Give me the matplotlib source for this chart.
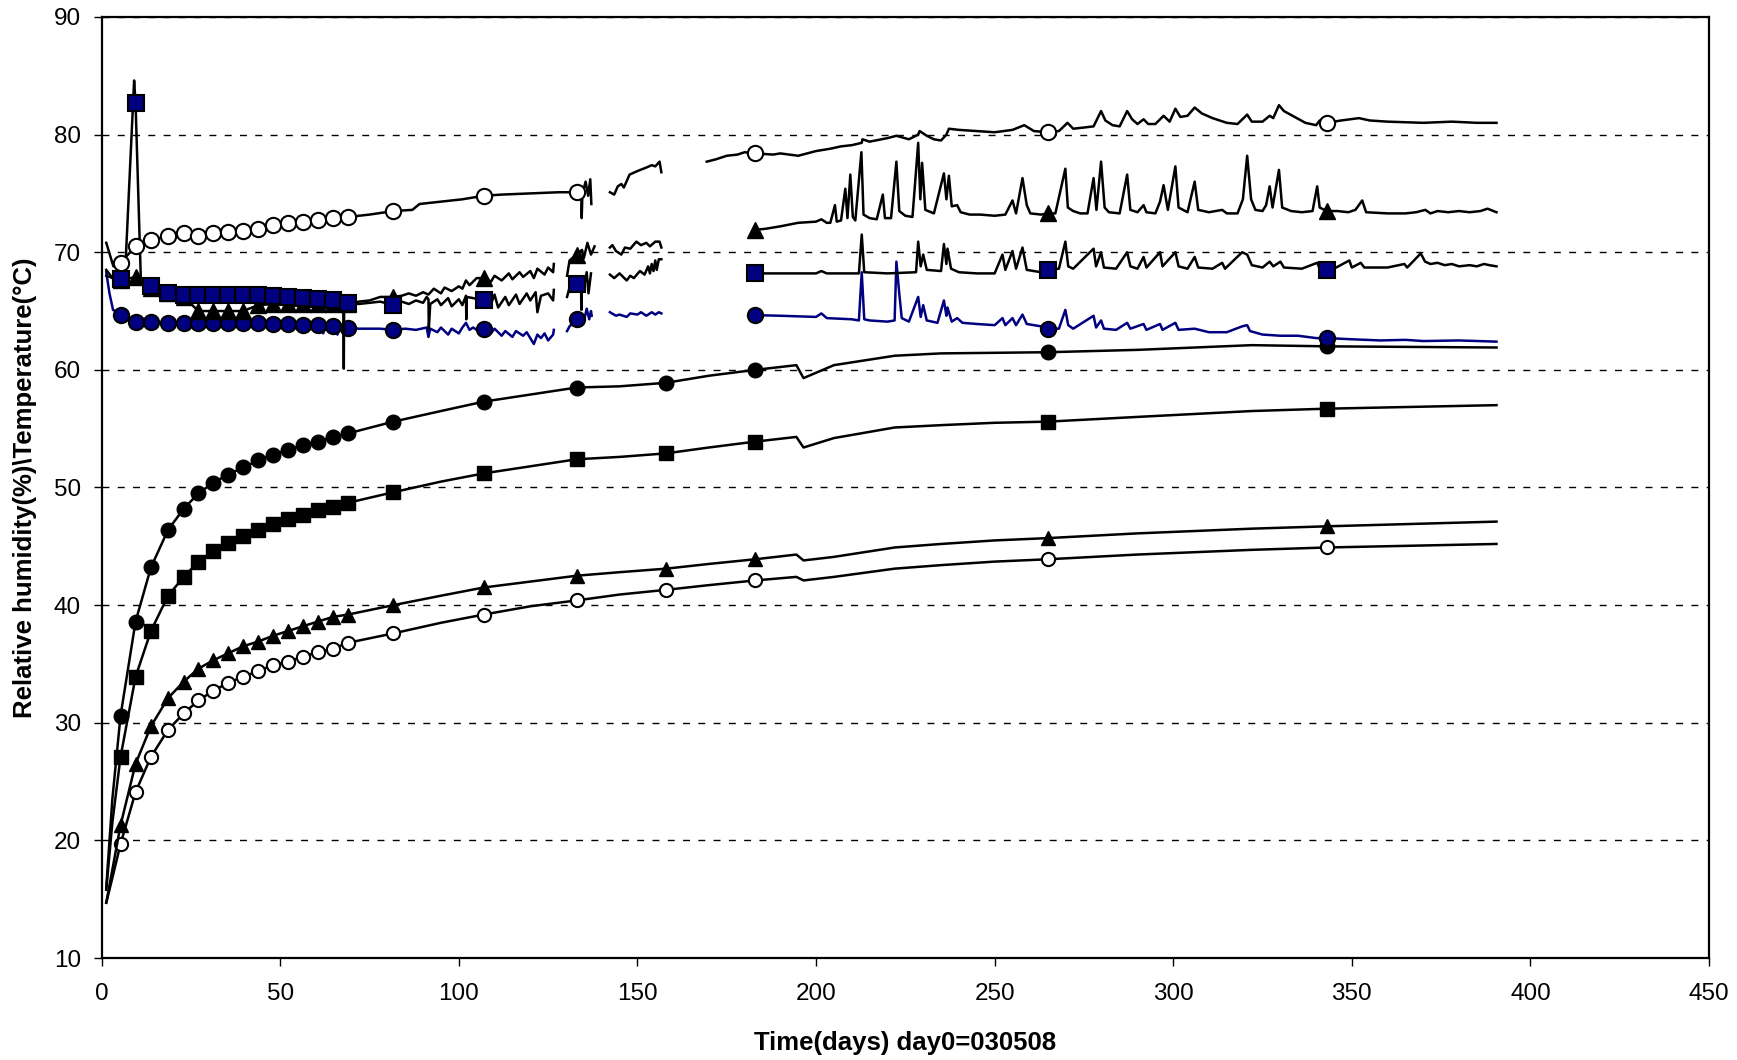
import numpy as np
import matplotlib.pyplot as plt

plt.rcParams['font.family'] = ['Liberation Sans', 'DejaVu Sans']

# days on which the marker symbols sit
MARK_DAYS = [5.3, 9.5, 13.8, 18.6, 23.0, 27.1, 31.2, 35.4, 39.6, 43.8, 48.0, 52.2,
             56.3, 60.5, 64.8, 69.0, 81.7, 107.0, 133.0, 158.0, 183.0, 265.0, 343.0]

# ---- smooth (lower) curves ----
low_t = [1.3, 3.0, 5.3, 9.5, 13.8, 18.6, 23.0, 27.1, 31.2, 35.4, 39.6, 43.8, 48.0,
         52.2, 56.3, 60.5, 64.8, 69.0, 81.7, 95, 107.0, 120, 133.0, 145, 158.0, 170,
         183.0, 194.5, 196.5, 205, 222, 235, 250, 265.0, 290, 322, 343.0, 390.5]
rh_circle = [16.0, 23.5, 30.6, 38.6, 43.2, 46.4, 48.2, 49.5, 50.4, 51.1, 51.7, 52.3, 52.8,
             53.2, 53.6, 53.9, 54.3, 54.6, 55.6, 56.5, 57.3, 57.9, 58.5, 58.6, 58.9, 59.5,
             60.0, 60.4, 59.3, 60.4, 61.2, 61.4, 61.45, 61.5, 61.7, 62.1, 62.0, 61.9]
rh_square = [15.8, 21.5, 27.1, 33.9, 37.8, 40.8, 42.4, 43.7, 44.6, 45.3, 45.9, 46.4, 46.9,
             47.3, 47.7, 48.1, 48.3, 48.7, 49.6, 50.5, 51.2, 51.8, 52.4, 52.6, 52.9, 53.4,
             53.9, 54.3, 53.4, 54.2, 55.1, 55.3, 55.5, 55.6, 56.0, 56.5, 56.7, 57.0]
rh_triangle = [14.7, 17.5, 21.3, 26.5, 29.7, 32.1, 33.5, 34.6, 35.3, 35.9, 36.5, 36.9, 37.4,
               37.8, 38.2, 38.6, 39.0, 39.2, 40.0, 40.8, 41.5, 42.0, 42.5, 42.8, 43.1, 43.5,
               43.9, 44.3, 43.8, 44.1, 44.9, 45.2, 45.5, 45.7, 46.1, 46.5, 46.7, 47.1]
rh_open = [14.7, 16.8, 19.7, 24.1, 27.1, 29.4, 30.8, 31.9, 32.7, 33.4, 33.9, 34.4, 34.9,
           35.2, 35.6, 36.0, 36.3, 36.8, 37.6, 38.5, 39.2, 39.9, 40.4, 40.9, 41.3, 41.7,
           42.1, 42.4, 42.1, 42.4, 43.1, 43.4, 43.7, 43.9, 44.3, 44.7, 44.9, 45.2]

# ---- noisy (upper) curves, None = no data ----
uo_t = [1.3, 3.3, 5.3, 9.5, 13.8, 18.6, 23.0, 27.1, 31.2, 35.4, 39.6, 43.8, 48.0, 52.2,
        56.3, 60.5, 64.8, 69.0, 75, 81.7, 87, 89, 95, 101, 107.0, 112, 120, 128, 133.0,
        134.3, 134.4, 134.6, 135.5, 136.2, 136.8, 137.1, 139,
        142.3, 143.5, 144.5, 145.5, 146.2, 147.8, 150, 152.5, 154, 155, 156.2, 156.7, 160,
        169.4, 172, 175, 178, 180, 183.0, 188, 190, 195, 200, 204, 207, 210, 212.8, 213,
        215, 220, 222.5, 226, 228.6, 229, 231, 233, 235, 236.5, 237.2, 240, 245, 250, 255,
        258.3, 261, 265.0, 268, 270.4, 272, 275, 277.7, 279.8, 281, 283, 285, 287.1, 288.5,
        290, 291.7, 293, 295, 297.3, 299, 300.6, 302, 304, 306, 308, 311, 315, 318, 320.7,
        322, 325, 327, 328, 329.6, 331, 334, 337, 340, 341, 343.0, 347, 352, 355, 360, 370,
        378, 385, 390.5]
uo_v = [70.8, 68.8, 69.1, 70.5, 71.0, 71.4, 71.6, 71.4, 71.6, 71.7, 71.8, 71.95, 72.3, 72.5,
        72.6, 72.7, 72.9, 73.0, 73.2, 73.5, 73.6, 74.1, 74.3, 74.5, 74.8, 74.9, 75.0, 75.1, 75.1,
        75.3, 72.9, 75.0, 76.0, 74.8, 76.2, 74.1, None,
        75.1, 74.9, 75.6, 75.8, 75.5, 76.6, 76.9, 77.2, 77.4, 77.3, 77.7, 76.8, None,
        77.7, 77.9, 78.2, 78.3, 78.5, 78.4, 78.3, 78.4, 78.2, 78.6, 78.8, 79.0, 79.1, 79.3, 79.6,
        79.4, 79.7, 79.9, 79.6, 80.0, 80.3, 79.9, 79.6, 79.5, 80.0, 80.5, 80.4, 80.3, 80.2, 80.4,
        80.8, 80.3, 80.2, 80.3, 81.0, 80.5, 80.6, 80.7, 82.0, 81.2, 80.8, 80.7, 82.0, 81.3,
        80.9, 81.3, 80.9, 80.9, 81.6, 81.1, 82.2, 81.5, 81.6, 82.3, 81.8, 81.4, 81.0, 80.9, 81.7,
        81.1, 81.1, 81.6, 81.4, 82.5, 82.0, 81.5, 81.0, 80.8, 81.2, 81.0, 81.2, 81.4, 81.2, 81.1, 81.0,
        81.1, 81.0, 81.0]

ut_t = [1.3, 3.3, 5.3, 9.5, 11, 13.8, 18.6, 23.0, 27.1, 31.2, 35.4, 39.6, 43.8, 48.0, 52.2,
        56.3, 60.5, 64.8, 69.0, 72, 75, 78, 81.7, 84, 86, 88, 90, 91.5, 93, 95, 96, 98, 100,
        101, 102, 103, 105, 107.0, 109, 110, 112, 114, 115, 117, 118, 120, 121, 122, 124, 125,
        126.4, 126.6, 128,
        130.3, 131, 133.0, 134.5, 135, 136, 137, 138, 140,
        142.3, 143, 144, 145.5, 146.5, 148, 149.7, 151, 152.5, 153.5, 155, 156.2, 156.7, 160,
        183.0, 186, 190, 195, 200, 201.5, 203, 204, 205.3, 205.8, 207, 208.2, 208.8, 209.6,
        210.3, 211, 212.7, 213.3, 215, 217, 218.7, 219.3, 221, 222.5, 223.3, 225, 227, 228.6,
        229.2, 229.7, 230.6, 233, 235.8, 236.5, 237.2, 238, 239.5, 240.5, 243, 246, 250, 253,
        255, 256, 257.8, 259, 260, 263, 265.0, 267, 269.8, 270.5, 272, 274, 276, 277.7, 278.5,
        279.8, 280.8, 282, 285, 287.1, 288, 290, 291.7, 292.5, 295, 296.3, 297.3, 298.5, 300.6,
        301.5, 304, 306, 307, 310, 313.7, 315, 318, 319.5, 320.7, 321.8, 323, 325, 326, 327,
        327.8, 329.6, 330.5, 333, 336, 339, 340.3, 341, 343.0, 346, 349, 351, 352.9, 354, 360,
        365, 368, 370.6, 372, 374, 377, 380, 383, 386, 388, 390.5]
ut_v = [68.5, 67.7, 67.6, 67.9, 67.3, 67.0, 66.5, 66.2, 65.0, 65.0, 65.0, 65.0, 65.5, 65.6, 65.6,
        65.6, 65.6, 65.6, 65.6, 65.8, 65.9, 66.2, 66.2, 66.3, 66.5, 66.3, 66.6, 66.4, 66.9, 66.5,
        67.0, 66.7, 67.1, 66.9, 67.6, 67.2, 67.8, 67.8, 67.5, 68.0, 67.6, 68.2, 67.7, 68.3, 67.9,
        68.4, 67.8, 68.6, 68.1, 68.7, 68.3, 69.0, None,
        68.0, 69.3, 69.8, 70.2, 69.5, 70.8, 69.8, 70.5, None,
        70.4, 70.6, 70.1, 69.8, 70.4, 70.3, 70.9, 70.6, 70.8, 70.5, 70.9, 70.9, 70.4, None,
        71.9, 72.0, 72.2, 72.5, 72.6, 72.8, 72.5, 72.5, 74.0, 72.6, 72.7, 75.4, 72.9, 76.6,
        73.0, 72.7, 78.5, 73.2, 72.9, 72.8, 74.9, 72.9, 72.9, 77.7, 73.5, 73.1, 73.0, 79.3,
        74.5, 77.6, 73.6, 73.3, 76.7, 74.5, 76.5, 73.9, 74.0, 73.4, 73.2, 73.2, 73.1, 73.2,
        74.4, 73.3, 76.3, 74.0, 73.3, 73.2, 73.3, 73.3, 77.1, 73.8, 73.5, 73.3, 73.3, 76.3, 73.6,
        77.7, 73.8, 73.4, 73.3, 76.6, 73.6, 73.4, 74.0, 73.4, 73.3, 74.3, 75.7, 73.6, 77.3,
        73.8, 73.4, 76.0, 73.6, 73.4, 73.6, 73.3, 73.3, 74.5, 78.2, 74.5, 73.6, 73.5, 74.0, 75.6,
        73.8, 77.0, 73.8, 73.5, 73.4, 73.5, 75.6, 73.8, 73.5, 73.5, 73.4, 73.6, 74.4, 73.4, 73.3,
        73.3, 73.4, 73.6, 73.3, 73.5, 73.4, 73.5, 73.4, 73.5, 73.7, 73.4]

us_t = [1.3, 3.3, 5.3, 6.5, 9.1, 9.5, 11.0, 13.8, 18.6, 23.0, 27.1, 31.2, 35.4, 39.6, 43.8,
        48.0, 52.2, 56.3, 60.5, 64.8, 67.7, 67.8, 67.9, 69.0, 72, 75, 78, 81.7, 84, 86, 88, 90,
        91, 91.5, 91.6, 92, 94, 95, 97, 98, 100, 101, 102, 102.1, 102.2, 104, 107.0, 109, 110,
        111, 113, 114, 116, 117, 119, 120, 121.5, 122, 123, 125, 126.4, 126.6, 128,
        130.3, 131, 133.0, 134.2, 134.3, 134.4, 135, 135.8, 136.3, 137, 140,
        142.3, 143.5, 145, 147, 148, 149, 150.7, 152, 153, 153.5, 154, 154.5, 155, 155.4, 156,
        156.7, 160,
        183.0, 190, 200, 201.5, 203, 212, 212.8, 213.5, 220, 228, 228.6, 229.3, 230, 231, 235,
        235.8, 236.5, 236.8, 237.8, 240, 245, 250, 252.2, 253, 255, 256, 257.8, 259, 263,
        265.0, 268, 269.8, 270.6, 272, 277.7, 278.4, 279.8, 280.6, 284, 287.1, 288, 290, 291.7,
        292.5, 296.3, 297, 300.6, 301.5, 304, 306, 307, 311, 313.7, 314.5, 319.3, 320.7, 322,
        325, 327, 328, 330, 331, 336, 340.3, 341, 343.0, 345, 349.3, 350, 352.5, 353.5, 360,
        364.7, 365.5, 369.3, 370.5, 372, 374, 376, 378, 380, 383, 385, 387, 388.5, 390.5]
us_v = [68.0, 67.8, 67.7, 67.7, 84.6, 82.7, 67.5, 67.15, 66.5, 66.4, 66.4, 66.4, 66.4, 66.4,
        66.4, 66.3, 66.2, 66.1, 66.0, 65.9, 65.8, 60.1, 65.8, 65.7, 65.6, 65.7, 65.8, 65.5, 65.8,
        65.6, 65.9, 65.7, 66.2, 66.0, 63.5, 65.6, 66.0, 65.5, 66.1, 65.4, 66.0, 65.5, 66.3, 64.3,
        66.2, 66.1, 65.9, 65.6, 66.4, 65.3, 66.2, 65.5, 66.4, 65.6, 66.5, 65.9, 66.6, 64.9, 66.3,
        66.5, 65.9, 66.8, None,
        66.2, 67.0, 67.3, 67.5, 65.1, 67.6, 67.0, 68.3, 66.5, 68.2, None,
        68.1, 67.8, 68.2, 67.6, 68.0, 67.8, 68.4, 68.1, 68.8, 68.2, 69.0, 68.4, 69.3, 68.5, 69.4,
        69.4, None,
        68.2, 68.2, 68.2, 68.4, 68.2, 68.2, 71.5, 68.3, 68.2, 68.3, 70.9, 68.8, 69.8, 68.5, 68.4,
        70.7, 69.0, 70.3, 68.6, 68.3, 68.2, 68.2, 69.8, 68.5, 70.1, 68.6, 70.4, 68.5, 68.3,
        68.5, 68.6, 70.9, 68.8, 68.6, 70.3, 68.8, 70.0, 68.7, 68.6, 70.0, 68.8, 68.6, 69.6,
        68.7, 70.0, 68.8, 70.0, 68.8, 68.6, 69.6, 68.7, 68.6, 69.1, 68.6, 70.0, 69.8, 68.9,
        68.7, 69.2, 68.8, 69.2, 68.7, 68.6, 69.1, 68.6, 68.5, 68.6, 69.3, 68.7, 69.1, 68.7, 68.7,
        69.0, 68.7, 69.9, 69.2, 69.0, 69.1, 68.9, 69.0, 68.8, 68.9, 68.8, 69.0, 68.9, 68.8]

ub_t = [1.3, 2.2, 3.2, 5.3, 7, 9.5, 13.8, 18.6, 23.0, 27.1, 31.2, 35.4, 39.6, 43.8, 48.0,
        52.2, 56.3, 57, 58, 60.5, 62, 63, 64.8, 66, 67, 69.0, 72, 75, 78, 81.7, 85, 88, 91,
        91.5, 92, 94, 95, 97, 98, 100, 101, 102, 103, 104, 106, 107.0, 109, 110, 112, 113, 115,
        116, 118, 119, 121, 122, 123, 124, 125, 126.4, 126.6, 128,
        130.3, 131, 133.0, 134, 135, 135.8, 136.5, 137, 137.2, 140,
        142.3, 144, 145, 147, 148, 150, 151, 152.5, 154, 155, 156, 156.7, 160,
        183.0, 190, 200, 201.5, 203, 210, 212, 212.8, 213.5, 215, 220, 222, 222.5, 223.3, 224,
        226, 228.6, 229.3, 230, 231, 234, 235.8, 236.5, 236.8, 238, 239.5, 241, 245, 250,
        252.2, 253, 255, 256, 257.8, 259, 263, 265.0, 268, 269.8, 270.6, 272, 277.7, 278.4,
        279.8, 280.6, 284, 287.1, 288, 291.7, 292.5, 296.3, 297, 300.6, 301.5, 306, 310, 315,
        319.3, 320.7, 321.5, 325, 330, 335, 340, 343.0, 350, 358, 365, 370, 380, 390.5]
ub_v = [68.3, 66.5, 65.1, 64.7, 64.3, 64.1, 64.1, 64.0, 64.0, 64.0, 64.0, 64.0, 64.0, 63.95,
        63.9, 63.9, 63.85, 63.2, 63.85, 63.8, 63.1, 63.8, 63.75, 63.0, 63.75, 63.6, 63.5, 63.5,
        63.5, 63.4, 63.5, 63.4, 63.6, 62.8, 63.5, 63.2, 63.6, 63.0, 63.5, 63.1, 63.6, 64.0, 63.4,
        63.6, 63.2, 63.5, 63.1, 63.5, 62.9, 63.3, 62.8, 63.3, 62.9, 63.2, 62.2, 63.0, 62.7, 63.1,
        62.5, 63.0, 63.4, None,
        63.3, 63.7, 64.3, 64.6, 64.1, 65.2, 64.3, 65.0, 64.6, None,
        64.9, 64.6, 64.7, 64.5, 64.8, 64.7, 64.9, 64.6, 64.9, 64.7, 64.9, 64.8, None,
        64.65, 64.6, 64.5, 64.8, 64.4, 64.3, 64.2, 68.3, 64.3, 64.2, 64.1, 64.2, 69.2, 66.5,
        64.4, 64.1, 66.2, 64.5, 65.5, 64.2, 64.0, 65.9, 64.6, 65.3, 64.1, 64.4, 64.0, 63.9,
        63.8, 64.4, 63.8, 64.4, 63.8, 64.7, 63.9, 63.7, 63.5, 63.5, 65.1, 63.8, 63.5, 64.6, 63.6,
        64.2, 63.5, 63.4, 64.0, 63.5, 63.9, 63.4, 63.9, 63.4, 64.0, 63.4, 63.5, 63.2, 63.2, 63.7,
        63.8, 63.3, 63.0, 62.9, 62.9, 62.7, 62.7, 62.6, 62.5, 62.55, 62.45, 62.5, 62.4]

NAVY = '#000080'


def marks(t):
    return [i for i, d in enumerate(t) if d in MARK_DAYS]


fig = plt.figure(figsize=(17.37, 10.6), dpi=100)
ax = fig.add_axes([0.0585, 0.0962, 0.9254, 0.8878])

lw = 1.8
ax.plot(low_t, rh_open, color='k', lw=lw, marker='o', ms=9.5, mfc='white', mec='k',
        mew=1.5, markevery=marks(low_t))
ax.plot(low_t, rh_triangle, color='k', lw=lw, marker='^', ms=10.5, mfc='k', mec='k',
        markevery=marks(low_t))
ax.plot(low_t, rh_square, color='k', lw=lw, marker='s', ms=10, mfc='k', mec='k',
        markevery=marks(low_t))
ax.plot(low_t, rh_circle, color='k', lw=lw, marker='o', ms=10.5, mfc='k', mec='k',
        markevery=marks(low_t))

ub_t, ub_v = np.array(ub_t), np.array(ub_v, dtype=float)
ut_t, ut_v = np.array(ut_t), np.array(ut_v, dtype=float)
us_t, us_v = np.array(us_t), np.array(us_v, dtype=float)
uo_t, uo_v = np.array(uo_t), np.array(uo_v, dtype=float)

ax.plot(ub_t, ub_v, color=NAVY, lw=lw, marker='o', ms=11, mfc=NAVY, mec='k', mew=1.5,
        markevery=marks(ub_t))
ax.plot(ut_t, ut_v, color='k', lw=lw, marker='^', ms=11, mfc='k', mec='k',
        markevery=marks(ut_t))
ax.plot(us_t, us_v, color='k', lw=lw, marker='s', ms=11, mfc=NAVY, mec='k', mew=1.5,
        markevery=marks(us_t))
ax.plot(uo_t, uo_v, color='k', lw=lw, marker='o', ms=11, mfc='white', mec='k', mew=1.5,
        markevery=marks(uo_t))

ax.set_xlim(0, 450)
ax.set_ylim(10, 90)
ax.set_xticks(np.arange(0, 451, 50))
ax.set_yticks(np.arange(10, 91, 10))
ax.yaxis.grid(True, color='k', lw=1, linestyle=(0, (5, 6)))
ax.set_axisbelow(True)

for s in ax.spines.values():
    s.set_linewidth(1.6)

ax.tick_params(axis='both', direction='out', length=6, width=1, labelsize=17.5)
ax.tick_params(axis='x', pad=12)
ax.tick_params(axis='y', pad=9)

ax.set_xlabel('Time(days) day0=030508', fontsize=18.5, fontweight='bold')
ax.set_ylabel('Relative humidity(%)\\Temperature(\u00b0C)', fontsize=18.5, fontweight='bold')
ax.xaxis.set_label_coords(0.5, -0.078)
ax.yaxis.set_label_coords(-0.04, 0.5)

fig.savefig('out.png', dpi=100)
